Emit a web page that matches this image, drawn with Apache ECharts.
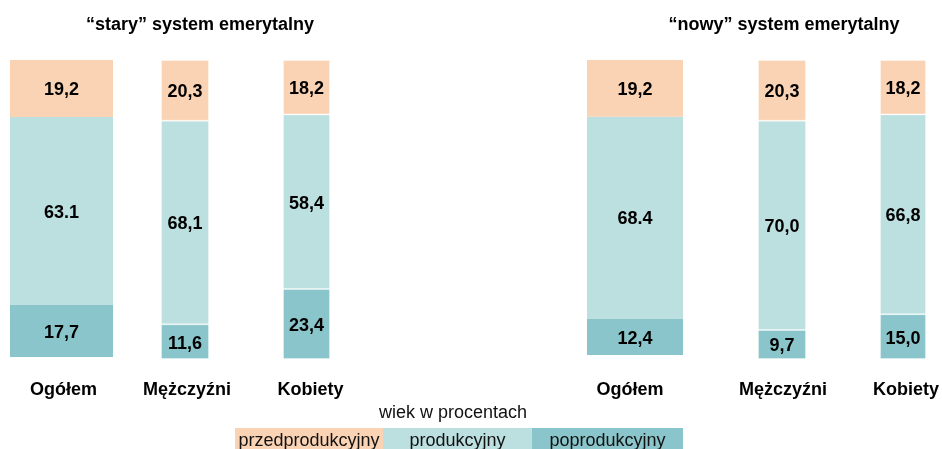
<!DOCTYPE html>
<html><head><meta charset="utf-8">
<script src="https://cdn.jsdelivr.net/npm/echarts@6/dist/echarts.min.js"></script>
<style>html,body{margin:0;padding:0;background:#fff}#c{width:942px;height:449px}</style>
</head><body><div id="c"></div>
<script>
const categories = ['Ogółem', 'Mężczyźni', 'Kobiety'];
const groupTitles = ['\u201cstary\u201d system emerytalny', '\u201cnowy\u201d system emerytalny'];
const seriesNames = ['przedprodukcyjny', 'produkcyjny', 'poprodukcyjny'];
const legendTitle = 'wiek w procentach';

const staryPrzed = [19.2, 20.3, 18.2];
const staryProd  = [63.1, 68.1, 58.4];
const staryPopr  = [17.7, 11.6, 23.4];
const nowyPrzed  = [19.2, 20.3, 18.2];
const nowyProd   = [68.4, 70.0, 66.8];
const nowyPopr   = [12.4, 9.7, 15.0];

const staryPrzedTxt = ['19,2', '20,3', '18,2'];
const staryProdTxt  = ['63.1', '68,1', '58,4'];
const staryPoprTxt  = ['17,7', '11,6', '23,4'];
const nowyPrzedTxt  = ['19,2', '20,3', '18,2'];
const nowyProdTxt   = ['68.4', '70,0', '66,8'];
const nowyPoprTxt   = ['12,4', '9,7', '15,0'];

const colors = ['#FAD3B4', '#BCDFE0', '#89C5CA'];
const FONT = '"Liberation Sans", Arial, sans-serif';

// layout of each bar (pixels)
const boxes = [
  {left: 10,  width: 103, height: 297, lab: 2,  m: 24},
  {left: 161, width: 48,  height: 299, lab: 2,  m: 22},
  {left: 283, width: 47,  height: 299, lab: 4,  m: 22},
  {left: 587, width: 96,  height: 295, lab: -5, m: 26},
  {left: 758, width: 48,  height: 299, lab: 1,  m: 22},
  {left: 880, width: 48,  height: 299, lab: 3,  m: 22}
];

const groups = [
  [staryPrzed, staryProd, staryPopr, staryPrzedTxt, staryProdTxt, staryPoprTxt],
  [nowyPrzed, nowyProd, nowyPopr, nowyPrzedTxt, nowyProdTxt, nowyPoprTxt]
];

const grid = [], xAxis = [], yAxis = [], series = [];
for (let g = 0; g < 2; g++) {
  for (let c = 0; c < 3; c++) {
    const i = g * 3 + c;
    const b = boxes[i];
    grid.push({left: b.left, width: b.width, top: 60, height: b.height, containLabel: false});
    xAxis.push({
      type: 'category', gridIndex: i, data: [categories[c]],
      axisLine: {show: false}, axisTick: {show: false}, splitLine: {show: false},
      axisLabel: {
        show: true, margin: b.m,
        color: '#000', fontWeight: 'bold', fontSize: 18, fontFamily: FONT,
        padding: b.lab >= 0 ? [0, 0, 0, b.lab * 2] : [0, -b.lab * 2, 0, 0]
      }
    });
    yAxis.push({type: 'value', gridIndex: i, min: 0, max: 100, show: false, splitLine: {show: false}});
    const narrow = b.width < 60;
    for (let s = 0; s < 3; s++) {
      const vals = groups[g][2 - s];
      const txts = groups[g][5 - s];
      series.push({
        type: 'bar', name: seriesNames[2 - s], xAxisIndex: i, yAxisIndex: i,
        stack: 'st' + i, barWidth: '100%',
        data: [vals[c]],
        itemStyle: {
          color: colors[2 - s],
          borderColor: narrow ? 'rgba(255,255,255,0.3)' : 'transparent',
          borderWidth: narrow ? 1 : 0
        },
        label: {
          show: true, position: 'inside', offset: [0, 2],
          color: '#000', fontWeight: 'bold', fontSize: 18, fontFamily: FONT,
          formatter: () => txts[c]
        },
        silent: true, animation: false
      });
    }
  }
}

const legendBoxes = [{x: 235, w: 148}, {x: 383, w: 149}, {x: 532, w: 151}];
const graphic = [
  {type: 'text', x: 200, y: 25, style: {text: groupTitles[0], font: 'bold 18px ' + FONT, fill: '#000', align: 'center', verticalAlign: 'middle'}},
  {type: 'text', x: 784, y: 25, style: {text: groupTitles[1], font: 'bold 18px ' + FONT, fill: '#000', align: 'center', verticalAlign: 'middle'}},
  {type: 'text', x: 453, y: 413, style: {text: legendTitle, font: '18px ' + FONT, fill: '#111', align: 'center', verticalAlign: 'middle'}}
];
seriesNames.forEach((n, k) => {
  const lb = legendBoxes[k];
  graphic.push({type: 'rect', shape: {x: lb.x, y: 428, width: lb.w, height: 24}, style: {fill: colors[k]}});
  graphic.push({type: 'text', x: lb.x + lb.w / 2, y: 441, style: {text: n, font: '18px ' + FONT, fill: '#111', align: 'center', verticalAlign: 'middle'}});
});

const chart = echarts.init(document.getElementById('c'), null, {renderer: 'canvas'});
chart.setOption({animation: false, grid, xAxis, yAxis, series, graphic});
</script></body></html>
